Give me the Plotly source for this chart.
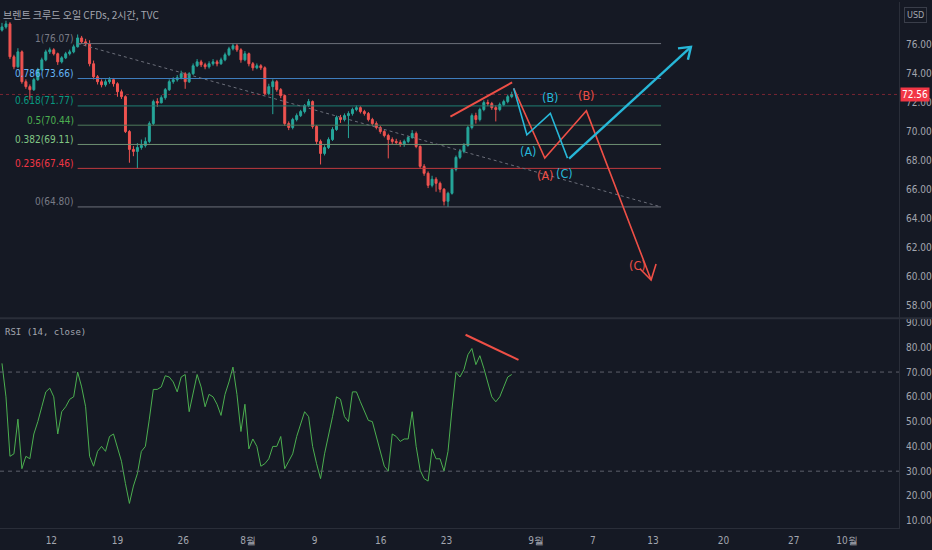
import plotly.graph_objects as go

# ---------------- data ----------------
first_open = 77.00
closes = [77.22, 77.43, 75.16, 74.47, 75.50, 73.44, 73.10, 72.89, 73.58, 74.27,
          74.95, 75.50, 75.64, 75.37, 74.81, 75.09, 75.37, 75.50, 75.85, 76.46,
          76.19, 76.05, 74.68, 73.78, 73.44, 73.23, 73.44, 73.58, 73.30, 72.75,
          72.41, 70.00, 68.77, 68.63, 68.90, 69.04, 69.32, 70.55, 72.07, 71.98,
          72.34, 72.89, 73.44, 73.58, 73.72, 73.99, 73.44, 73.99, 74.54, 74.81,
          74.61, 74.47, 74.68, 74.81, 74.68, 74.95, 75.30, 75.71, 75.92, 75.64,
          74.95, 75.37, 74.68, 74.40, 74.54, 74.40, 72.62, 73.10, 73.44, 72.89,
          72.48, 70.55, 70.28, 70.83, 71.10, 71.38, 71.79, 72.07, 70.35, 69.32,
          68.49, 68.90, 69.45, 70.14, 70.97, 70.83, 71.10, 71.24, 71.52, 71.65,
          71.38, 71.24, 70.83, 70.55, 70.28, 70.00, 69.73, 69.45, 69.32, 69.25,
          69.11, 69.32, 69.59, 69.87, 68.97, 67.60, 67.12, 66.29, 66.71, 66.43,
          66.02, 65.19, 65.74, 67.39, 68.22, 68.63, 69.04, 70.28, 71.10, 70.83,
          71.52, 72.00, 71.93, 71.65, 71.52, 71.86, 72.07, 72.41, 72.56]
highs = [77.50, 77.65, 77.55, 75.30, 75.75, 75.60, 73.60, 73.25, 73.70, 74.40,
         75.10, 75.65, 75.80, 75.75, 75.45, 75.20, 75.50, 75.65, 76.00, 76.70,
         76.60, 76.40, 76.30, 74.90, 73.90, 73.60, 73.60, 73.75, 73.70, 73.40,
         72.90, 72.50, 70.10, 69.00, 69.20, 69.45, 69.60, 70.70, 72.20, 72.30,
         72.50, 73.00, 73.60, 73.75, 73.90, 74.20, 74.10, 74.10, 74.70, 75.00,
         74.95, 74.75, 74.85, 75.00, 74.95, 75.10, 75.45, 75.85, 76.10, 76.05,
         75.75, 75.55, 75.45, 74.80, 74.70, 74.65, 74.50, 73.30, 73.60, 73.55,
         73.00, 72.55, 70.70, 70.95, 71.25, 71.50, 71.90, 72.25, 72.15, 70.45,
         69.45, 69.05, 69.60, 70.30, 71.10, 71.15, 71.25, 71.40, 71.65, 71.80,
         71.75, 71.50, 71.35, 70.95, 70.70, 70.40, 70.10, 69.85, 69.60, 69.50,
         69.40, 69.45, 69.70, 70.10, 70.00, 69.05, 67.75, 67.25, 66.95, 66.85,
         66.55, 66.10, 65.85, 67.50, 68.35, 68.80, 69.20, 70.40, 71.25, 71.30,
         71.65, 72.15, 72.20, 72.05, 71.80, 72.00, 72.20, 72.55, 72.75]
lows = [76.90, 77.10, 75.00, 74.30, 74.40, 73.30, 72.95, 72.20, 72.80, 73.50,
        74.20, 74.85, 75.35, 75.25, 74.60, 74.70, 75.00, 75.25, 75.40, 75.80,
        76.05, 75.90, 74.50, 73.60, 73.25, 73.05, 73.10, 73.30, 73.10, 72.40,
        72.25, 69.90, 67.85, 68.30, 67.46, 68.75, 68.90, 69.20, 70.45, 71.70,
        71.95, 72.20, 72.80, 73.30, 73.45, 73.60, 72.95, 73.35, 73.90, 74.45,
        74.45, 74.30, 74.35, 74.55, 74.50, 74.60, 74.85, 75.20, 75.60, 75.50,
        74.75, 74.85, 74.50, 74.20, 74.30, 74.25, 72.50, 72.50, 71.20, 72.75,
        72.30, 70.40, 70.10, 70.15, 70.70, 71.00, 71.25, 71.70, 70.20, 69.10,
        67.73, 68.35, 68.80, 69.35, 70.05, 70.60, 70.70, 69.55, 71.10, 71.40,
        71.25, 71.10, 70.70, 70.40, 70.15, 69.85, 69.60, 68.15, 69.15, 69.10,
        68.95, 68.95, 69.20, 69.50, 68.85, 67.45, 66.95, 66.10, 66.15, 65.85,
        65.80, 64.90, 64.80, 65.65, 67.25, 68.10, 68.50, 68.95, 70.15, 70.55,
        70.70, 71.40, 71.75, 71.50, 70.70, 71.40, 71.75, 71.95, 72.30]
rsi = [73.5, 60, 36, 37, 51, 31, 36, 35, 45, 50,
       56, 62, 63.5, 60, 45, 54, 56, 59, 60, 70,
       64, 56, 36, 32, 38, 40, 38, 44, 45, 39,
       34, 25, 17, 24, 29, 38, 40, 51, 63, 63,
       64, 68.5, 68, 66, 62, 68, 69, 54, 62, 69,
       64, 56, 61, 60, 57, 52.5, 61, 66, 72, 61,
       46, 57, 39, 43, 40, 32, 33, 35, 40, 40,
       44, 31, 34, 37, 44, 49, 54, 52, 40, 33,
       27, 37, 44, 52, 60, 59, 52, 50, 62, 62,
       58, 54, 50.5, 50, 44, 37, 32, 30, 45, 44,
       42, 43, 43, 54, 40, 30.4, 27, 26, 39, 35,
       35, 30, 38, 55, 69.9, 68, 71, 77, 79.5, 73,
       76.6, 71.5, 66, 60, 58, 60, 64, 68, 69]
last_price = 72.56

# x axis: bar index; tick labels
x_tick_pos = [12.4, 29.0, 45.5, 61.8, 78.5, 95.1, 111.6, 134.1, 148.4, 163.5, 181.2, 198.8, 212.2]
x_tick_text = ["12", "19", "26", "8월", "9", "16", "23", "9월", "7", "13", "20", "27", "10월"]
price_ticks = [58, 60, 62, 64, 66, 68, 70, 72, 74, 76]
rsi_ticks = [10, 20, 30, 40, 50, 60, 70, 80, 90]
rsi_bands = [70, 30]

# Fibonacci retracement drawing
fib_ratios = ["1", "0.786", "0.618", "0.5", "0.382", "0.236", "0"]
fib_prices = [76.07, 73.66, 71.77, 70.44, 69.11, 67.46, 64.80]
fib_x = [19.0, 165.5]

# Elliott wave drawings (bar index, price)
cyan_abc_x = [128.5, 131.8, 137.7, 142.0]
cyan_abc_y = [72.98, 69.78, 71.26, 68.17]
cyan_up_x = [142.4, 173.0]
cyan_up_y = [68.13, 75.85]
cyan_head_x = [169.75, 173.0, 172.25]
cyan_head_y = [75.74, 75.85, 74.95]
red_abc_x = [128.5, 136.3, 146.75, 163.0]
red_abc_y = [72.98, 68.17, 71.43, 59.76]
red_head_x = [160.25, 163.0, 164.25]
red_head_y = [60.52, 59.76, 60.86]
wedge_x = [112.6, 128.1]
wedge_y = [71.03, 73.39]
rsi_div_x = [116.4, 129.7]
rsi_div_y = [85.06, 74.9]
cyan_labels = [("(A)", 132.0, 68.6), ("(B)", 137.7, 72.33), ("(C)", 141.2, 67.14)]
red_labels = [("(A)", 136.3, 66.96), ("(B)", 146.75, 72.52), ("(C)", 159.5, 60.79)]

# ---------------- styles ----------------
BG = "#151924"
TXT = "#a3a6af"
AXL = "#2a2e39"
UP = "#26a69a"
DN = "#ef5350"
CYAN = "#27b7d8"
RED = "#ee4f46"
NARROW = "Liberation Sans Narrow, DejaVu Sans Condensed, Roboto Condensed, Arial Narrow, sans-serif"
fib_colors = ["#787b86", "#64b5f6", "#089981", "#4caf50", "#81c784", "#f23645", "#787b86"]
fib_line_colors = ["#6c6f7a", "#3f7fc0", "#1f7f74", "#4f7a5a", "#6e9072", "#c0393f", "#6c6f7a"]

idx = list(range(len(closes)))
opens = [first_open] + closes[:-1]
x_range = [-0.5, 225.25]

fig = go.Figure()

# fib level lines
for p, c in zip(fib_prices, fib_line_colors):
    fig.add_trace(go.Scatter(x=fib_x, y=[p, p], mode="lines", line=dict(color=c, width=1),
                             hoverinfo="skip", showlegend=False))
# fib diagonal
fig.add_trace(go.Scatter(x=fib_x, y=[fib_prices[0], fib_prices[-1]], mode="lines",
                         line=dict(color="#6c6f7a", width=1, dash="3px,3px"),
                         hoverinfo="skip", showlegend=False))

# candles
fig.add_trace(go.Candlestick(
    x=idx, open=opens, high=highs, low=lows, close=closes,
    increasing=dict(line=dict(color=UP, width=1), fillcolor=UP),
    decreasing=dict(line=dict(color=DN, width=1), fillcolor=DN),
    whiskerwidth=0, hoverinfo="skip", showlegend=False))

# wave drawings
def line(xs, ys, color, width, xa="x", ya="y"):
    fig.add_trace(go.Scatter(x=xs, y=ys, mode="lines", line=dict(color=color, width=width),
                             xaxis=xa, yaxis=ya, hoverinfo="skip", showlegend=False))

line(wedge_x, wedge_y, RED, 2)
line(red_abc_x, red_abc_y, RED, 1.6)
line(red_head_x, red_head_y, RED, 1.6)
line(cyan_abc_x, cyan_abc_y, CYAN, 1.6)
line(cyan_up_x, cyan_up_y, CYAN, 2.4)
line(cyan_head_x, cyan_head_y, CYAN, 2.4)

# RSI
fig.add_trace(go.Scatter(x=idx, y=rsi, mode="lines", line=dict(color="#4caf50", width=1),
                         xaxis="x2", yaxis="y2", hoverinfo="skip", showlegend=False))
line(rsi_div_x, rsi_div_y, RED, 2, "x2", "y2")

shapes = []
for b in rsi_bands:
    shapes.append(dict(type="line", xref="x2", yref="y2", x0=x_range[0], x1=x_range[1], y0=b, y1=b,
                       line=dict(color="#5d606b", width=1, dash="4px,4px")))
shapes.append(dict(type="line", xref="paper", yref="y", x0=0, x1=1, y0=last_price, y1=last_price,
                   line=dict(color="rgba(242,54,69,0.45)", width=1, dash="dot")))
# pane separator
shapes.append(dict(type="line", xref="paper", yref="paper", x0=0, x1=1.04, y0=1 - 317.5 / 528, y1=1 - 317.5 / 528,
                   line=dict(color=AXL, width=2)))

ann = []
for r, p, c in zip(fib_ratios, fib_prices, fib_colors):
    ann.append(dict(x=fib_x[0], y=p, xref="x", yref="y", text=f"{r}({p:.2f})", showarrow=False,
                    xanchor="right", yanchor="middle", xshift=-2, yshift=5,
                    font=dict(family=NARROW, size=10, color=c)))
for t, xx, yy in cyan_labels:
    ann.append(dict(x=xx, y=yy, xref="x", yref="y", text=t, showarrow=False,
                    font=dict(family=NARROW, size=12.5, color=CYAN)))
for t, xx, yy in red_labels:
    ann.append(dict(x=xx, y=yy, xref="x", yref="y", text=t, showarrow=False,
                    font=dict(family=NARROW, size=12.5, color=RED)))
ann.append(dict(x=0, y=1, xref="paper", yref="paper", xanchor="left", yanchor="middle", xshift=1, yshift=-12,
                text="브렌트 크루드 오일 CFDs, 2시간, TVC", showarrow=False,
                font=dict(family="Noto Sans CJK KR", size=10, color=TXT)))
ann.append(dict(x=0, y=1 - 331 / 528, xref="paper", yref="paper", xanchor="left", yanchor="middle", xshift=3,
                text="RSI (14, close)", showarrow=False,
                font=dict(family="DejaVu Sans Mono", size=9, color=TXT)))
ann.append(dict(x=1, y=1, xref="paper", yref="paper", xanchor="left", yanchor="top", xshift=5, yshift=-5,
                text="USD", showarrow=False, bordercolor="#3a3e4a", borderwidth=1, borderpad=2,
                font=dict(family=NARROW, size=9, color=TXT)))
ann.append(dict(x=1, y=last_price, xref="paper", yref="y", xanchor="left", yanchor="middle", xshift=1,
                text=f"{last_price:.2f}", showarrow=False, bgcolor="#f23645", width=26, borderpad=1,
                font=dict(family=NARROW, size=10, color="#ffffff")))

axis_font = dict(family=NARROW, size=10, color=TXT)
fig.update_layout(
    width=932, height=550, margin=dict(l=0, r=29, t=0, b=22),
    paper_bgcolor=BG, plot_bgcolor=BG, showlegend=False,
    shapes=shapes, annotations=ann,
    xaxis=dict(domain=[0, 1], range=x_range, anchor="y", showticklabels=False, showgrid=False,
               zeroline=False, rangeslider=dict(visible=False), fixedrange=True),
    yaxis=dict(domain=[1 - 317 / 528, 1], range=[57.15, 78.94], side="right", anchor="x",
               tickvals=price_ticks, ticktext=[f"{v:.2f}" for v in price_ticks], tickfont=axis_font,
               showgrid=False, zeroline=False, showline=True, linecolor=AXL, ticks="", ticklabelstandoff=4),
    xaxis2=dict(domain=[0, 1], range=x_range, anchor="y2", tickvals=x_tick_pos, ticktext=x_tick_text,
                tickfont=axis_font, showgrid=False, zeroline=False, showline=True, linecolor=AXL,
                ticks="", ticklabelstandoff=3),
    yaxis2=dict(domain=[0, 1 - 318 / 528], range=[7.07, 91.49], side="right", anchor="x2",
                tickvals=rsi_ticks, ticktext=[f"{v:.2f}" for v in rsi_ticks], tickfont=axis_font,
                showgrid=False, zeroline=False, showline=True, linecolor=AXL, ticks="", ticklabelstandoff=4),
)

fig.write_html("out.html", config={"displayModeBar": False},
               post_script="document.body.style.margin='0px';document.body.style.overflow='hidden';"
                           "document.body.style.background='" + BG + "';")
